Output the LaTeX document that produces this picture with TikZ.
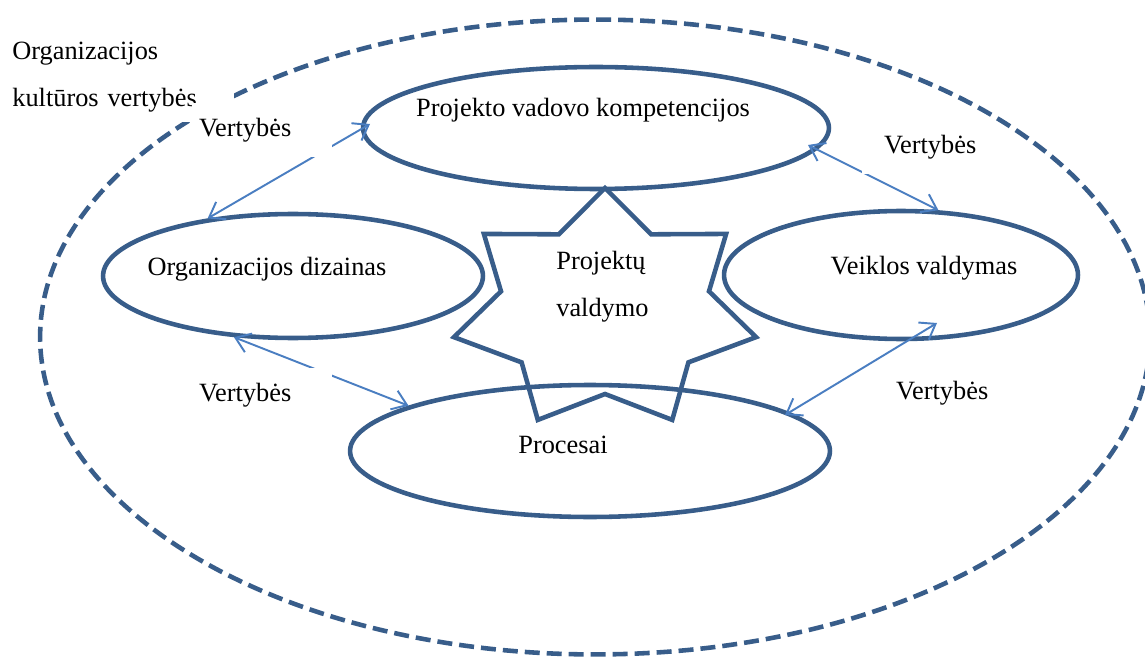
\documentclass[tikz,border=0pt]{standalone}
\usepackage{fontspec}
\setmainfont{Liberation Serif}
\usepackage{tikz}
\usetikzlibrary{shapes.geometric, arrows.meta, positioning}
\definecolor{ringblue}{RGB}{56, 93, 138}
\definecolor{linkblue}{RGB}{74, 126, 193}

\begin{document}
\begin{tikzpicture}[
      x=0.02cm, y=-0.02cm,
      font=\fontsize{15}{26.6}\selectfont,
      area/.style={ellipse, draw=ringblue, line width=2.6pt, inner sep=0pt},
      ring/.style={draw=ringblue, line width=2.6pt},
      culture/.style={ring, dash pattern=on 0.3cm off 0.14cm},
      link/.style={{Straight Barb[length=0.28cm, width=0.4cm]}-{Straight Barb[length=0.28cm, width=0.4cm]},
                   line width=1.1pt, linkblue},
      tag/.style={fill=white, text width=2.52cm, inner xsep=0.14cm, inner ysep=0pt,
                  minimum height=1.08cm, align=left}
    ]
    \useasboundingbox (0,0) rectangle (1145,658);

    %% Outer frame
    \draw[culture] (595,337) ellipse [x radius=11.1cm, y radius=6.35cm];
    \node[fill=white, anchor=north west, text width=4.3cm, inner xsep=0.14cm, inner ysep=0.2cm,
          align=left] (kult) at (5,32) {Organizacijos\\kultūros vertybės};

    %% Areas
    \node[area, minimum width=9.32cm, minimum height=2.44cm] (pvk)  at (596,128) {};
    \node[area, minimum width=7.6cm,  minimum height=2.48cm] (odz)  at (293,276) {};
    \node[area, minimum width=7.08cm, minimum height=2.56cm] (vv)   at (901,275) {};
    \node[area, minimum width=9.6cm,  minimum height=2.64cm] (proc) at (590,451) {};

    \node (tpvk)  at (583,110) {Projekto vadovo kompetencijos};
    \node (todz)  at (267,269) {Organizacijos dizainas};
    \node (tvv)   at (924,268) {Veiklos valdymas};
    \node (tproc) at (563,445) {Procesai};

    %% Star
    \begin{scope}[shift={(605,310)}, yscale=-1, xscale=1.27]
      \draw[ring] (90:122) \foreach \k in {1,...,6} {-- ({64.29+51.43*\k}:84) -- ({90+51.43*\k}:122)}
        -- (64.29:84) -- cycle;
    \end{scope}
    \node[anchor=north west, align=left, inner sep=0pt] (brand) at (556,251) {Projektų\\valdymo};

    %% Links
    \draw[link] (odz.146) -- ([shift={(-226,-4)}]pvk.center);
    \draw[link] ([shift={(212,17)}]pvk.center) -- (vv.60);
    \draw[link] (odz.-134) -- (proc.166);
    \draw[link] ([shift={(195,-36)}]proc.center) -- ([shift={(36,48)}]vv.center);

    \node[tag] (v1) at (262,130) {Vertybės};
    \node[tag, text width=1.8cm, inner xsep=0.44cm] (v2) at (929,147) {Vertybės};
    \node[tag] (v3) at (262,395) {Vertybės};
    \node[tag] (v4) at (959,393) {Vertybės};
  \end{tikzpicture}
\end{document}
